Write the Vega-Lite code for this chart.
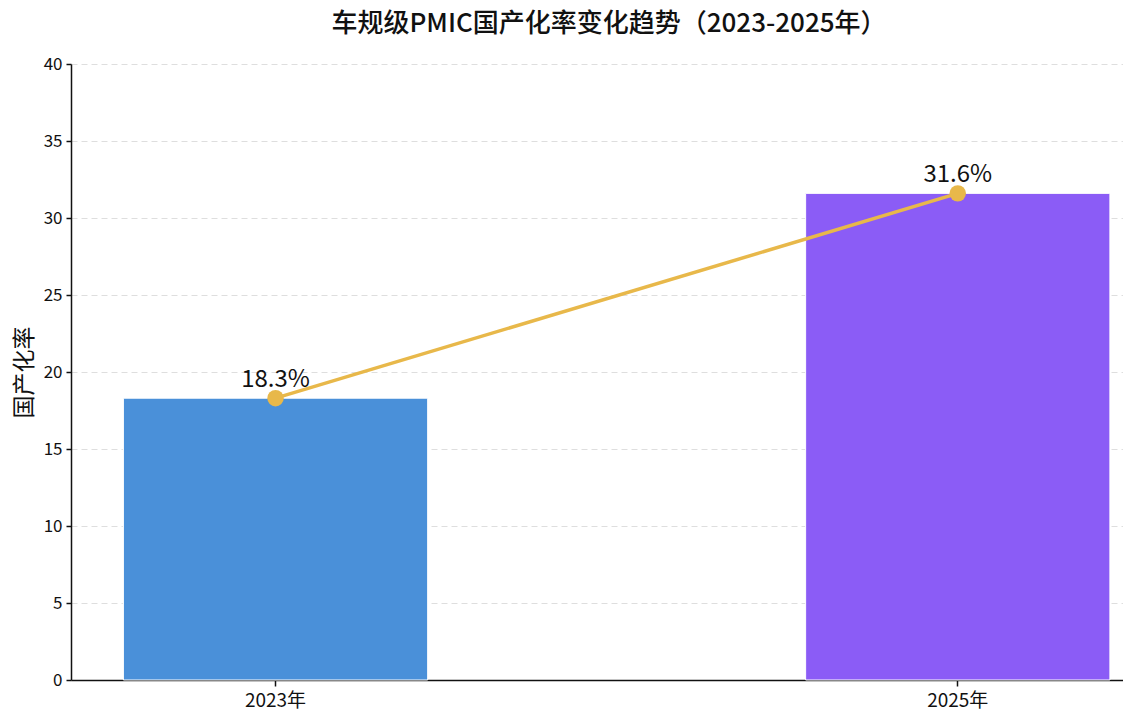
{
  "$schema": "https://vega.github.io/schema/vega-lite/v6.json",
  "width": 1052,
  "height": 616,
  "autosize": "none",
  "padding": {"left": 71, "top": 64, "right": 0, "bottom": 37},
  "background": "white",
  "config": {
    "font": "Noto Sans CJK SC",
    "view": {"stroke": null}
  },
  "title": {
    "text": "车规级PMIC国产化率变化趋势（2023-2025年）",
    "fontSize": 26,
    "fontWeight": 500,
    "color": "#111111",
    "offset": 18,
    "anchor": "middle",
    "dx": 12
  },
  "data": {
    "values": [
      {"year": "2023年", "rate": 18.3, "label": "18.3%"},
      {"year": "2025年", "rate": 31.6, "label": "31.6%"}
    ]
  },
  "encoding": {
    "x": {
      "field": "year",
      "type": "nominal",
      "sort": null,
      "scale": {"paddingInner": 0.554, "paddingOuter": 0.048, "align": 0.8},
      "axis": {
        "title": null,
        "labelAngle": 0,
        "labelFontSize": 19,
        "labelColor": "#111111",
        "labelPadding": 5,
        "domainColor": "#111111",
        "domainWidth": 1.5,
        "tickColor": "#111111",
        "tickSize": 6,
        "tickWidth": 1.5
      }
    }
  },
  "layer": [
    {
      "mark": {"type": "bar", "stroke": "white", "strokeWidth": 1},
      "encoding": {
        "y": {
          "field": "rate",
          "type": "quantitative",
          "scale": {"domain": [0, 40], "nice": false},
          "axis": {
            "title": "国产化率",
            "titleFontSize": 23,
            "titleFontWeight": "normal",
            "titleColor": "#111111",
            "titlePadding": 7,
            "values": [0, 5, 10, 15, 20, 25, 30, 35, 40],
            "labelFontSize": 17,
            "labelColor": "#111111",
            "labelPadding": 4,
            "domainColor": "#111111",
            "domainWidth": 1.5,
            "tickColor": "#111111",
            "tickSize": 5,
            "tickWidth": 1.5,
            "grid": true,
            "gridColor": "#dedede",
            "gridDash": [6, 4],
            "gridWidth": 1
          }
        },
        "color": {
          "field": "year",
          "type": "nominal",
          "scale": {"range": ["#4A90D9", "#8B5CF6"]},
          "legend": null
        }
      }
    },
    {
      "mark": {"type": "line", "color": "#E8B84A", "strokeWidth": 3.5},
      "encoding": {
        "y": {"field": "rate", "type": "quantitative"}
      }
    },
    {
      "mark": {"type": "point", "filled": true, "color": "#E8B84A", "size": 270, "opacity": 1},
      "encoding": {
        "y": {"field": "rate", "type": "quantitative"}
      }
    },
    {
      "mark": {"type": "text", "fontSize": 24, "color": "#111111", "baseline": "alphabetic", "dy": -11},
      "encoding": {
        "y": {"field": "rate", "type": "quantitative"},
        "text": {"field": "label"}
      }
    }
  ]
}
